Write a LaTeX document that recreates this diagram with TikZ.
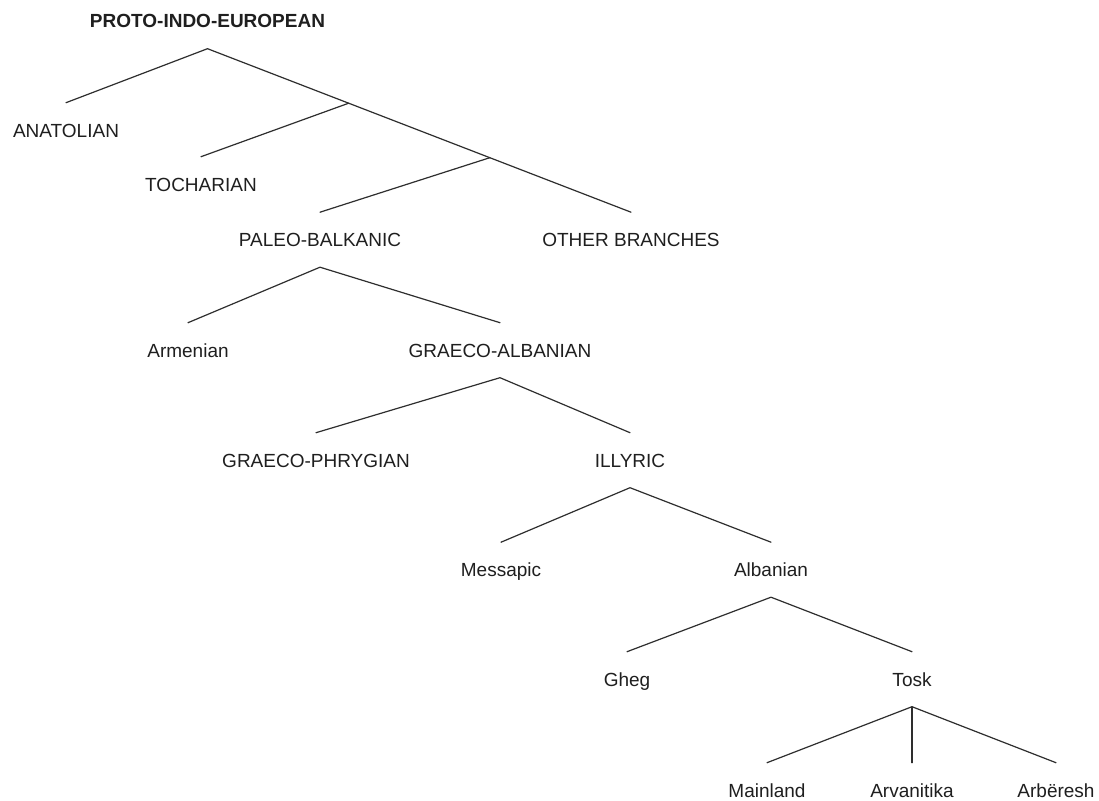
\documentclass[tikz,border=0pt]{standalone}
\usepackage{fontspec}
\setmainfont{Liberation Sans}
\usetikzlibrary{calc}

\tikzset{
  lang/.style={anchor=base, inner xsep=0pt, inner ysep=20.5pt,
    text height=13.6pt, text depth=0pt, text=black!88,
    font=\fontsize{19}{23}\selectfont},
  root/.style={lang, font=\fontsize{19}{23}\selectfont\bfseries},
  branch/.style={draw=black!82, line width=1.2pt, line cap=round, line join=round}
}

\begin{document}
\begin{tikzpicture}[x=1pt, y=-1pt]
  \useasboundingbox[fill=white] (0,0) rectangle (1099,800);

  % family tree labels, placed on their baselines
  \node[root] (pie)   at (207.5,28)  {PROTO-INDO-EUROPEAN};
  \node[lang] (anat)  at (66,137)    {ANATOLIAN};
  \node[lang] (toch)  at (201,191)   {TOCHARIAN};
  \node[lang] (paleo) at (320,246.5) {PALEO-BALKANIC};
  \node[lang] (other) at (631,246.5) {OTHER BRANCHES};
  \node[lang] (arm)   at (188,357)   {Armenian};
  \node[lang] (ga)    at (500,357)   {GRAECO-ALBANIAN};
  \node[lang] (gp)    at (316,467)   {GRAECO-PHRYGIAN};
  \node[lang] (ill)   at (630,467)   {ILLYRIC};
  \node[lang] (mes)   at (501,576.5) {Messapic};
  \node[lang] (alb)   at (771,576.5) {Albanian};
  \node[lang] (gheg)  at (627,686)   {Gheg};
  \node[lang] (tosk)  at (912,686)   {Tosk};
  \node[lang] (main)  at (767,797)   {Mainland};
  \node[lang] (arv)   at (912,797)   {Arvanitika};
  \node[lang] (arb)   at (1056,797)  {Arbëresh};

  % split points on the long branch towards the other branches
  \coordinate (j1) at ($(pie.south)!1/3!(other.north)$);
  \coordinate (j2) at ($(pie.south)!2/3!(other.north)$);

  \draw[branch] (anat.north) -- (pie.south) -- (other.north);
  \draw[branch] (j1) -- (toch.north);
  \draw[branch] (j2) -- (paleo.north);
  \draw[branch] (arm.north) -- (paleo.south) -- (ga.north);
  \draw[branch] (gp.north) -- (ga.south) -- (ill.north);
  \draw[branch] (mes.north) -- (ill.south) -- (alb.north);
  \draw[branch] (gheg.north) -- (alb.south) -- (tosk.north);
  \draw[branch] (main.north) -- (tosk.south) -- (arb.north);
  \draw[branch] (tosk.south) -- (arv.north);
\end{tikzpicture}
\end{document}
